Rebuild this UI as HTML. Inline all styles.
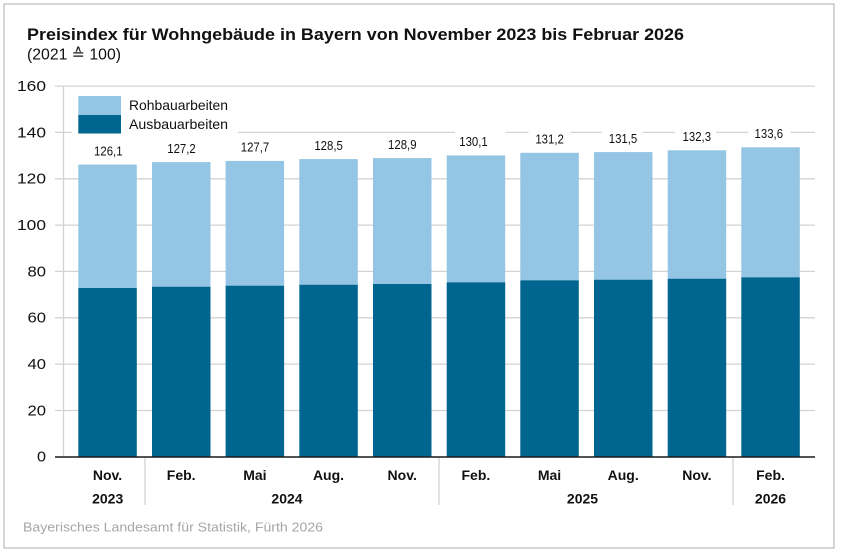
<!DOCTYPE html>
<html><head><meta charset="utf-8"><style>
html,body{margin:0;padding:0;background:#fff;}
svg{display:block;}
text{font-family:"Liberation Sans","DejaVu Sans",sans-serif;}
</style></head><body>
<svg width="841" height="555" viewBox="0 0 841 555" xmlns="http://www.w3.org/2000/svg">
<rect x="0" y="0" width="841" height="555" fill="#fff"/>
<rect x="4" y="4" width="830" height="544" fill="#fff" stroke="#c9c9c9" stroke-width="1.5"/>
<text x="27" y="40" font-size="17" font-weight="bold" fill="#111" textLength="657" lengthAdjust="spacingAndGlyphs">Preisindex für Wohngebäude in Bayern von November 2023 bis Februar 2026</text>
<text x="27" y="59.5" font-size="16" fill="#111" textLength="94" lengthAdjust="spacingAndGlyphs">(2021 ≙ 100)</text>
<g stroke="#d3d3d3" stroke-width="1.3">
<line x1="55" y1="86.1" x2="815" y2="86.1"/>
<line x1="55" y1="132.4" x2="815" y2="132.4"/>
<line x1="55" y1="178.8" x2="815" y2="178.8"/>
<line x1="55" y1="225.1" x2="815" y2="225.1"/>
<line x1="55" y1="271.4" x2="815" y2="271.4"/>
<line x1="55" y1="317.8" x2="815" y2="317.8"/>
<line x1="55" y1="364.1" x2="815" y2="364.1"/>
<line x1="55" y1="410.5" x2="815" y2="410.5"/>
<line x1="63.5" y1="86" x2="63.5" y2="457"/>
<line x1="145" y1="457" x2="145" y2="505"/>
<line x1="439" y1="457" x2="439" y2="505"/>
<line x1="733" y1="457" x2="733" y2="505"/>
</g>
<g font-size="15" fill="#111" text-anchor="end">
<text x="46" y="91" textLength="29" lengthAdjust="spacingAndGlyphs">160</text>
<text x="46" y="137.3" textLength="29" lengthAdjust="spacingAndGlyphs">140</text>
<text x="46" y="183.7" textLength="29" lengthAdjust="spacingAndGlyphs">120</text>
<text x="46" y="230" textLength="29" lengthAdjust="spacingAndGlyphs">100</text>
<text x="46" y="276.3" textLength="18.5" lengthAdjust="spacingAndGlyphs">80</text>
<text x="46" y="322.7" textLength="18.5" lengthAdjust="spacingAndGlyphs">60</text>
<text x="46" y="369" textLength="18.5" lengthAdjust="spacingAndGlyphs">40</text>
<text x="46" y="415.4" textLength="18.5" lengthAdjust="spacingAndGlyphs">20</text>
<text x="46" y="461.7" textLength="9" lengthAdjust="spacingAndGlyphs">0</text>
</g>
<!-- bars -->
<g>
<rect x="78.3" y="164.6" width="58.5" height="123.4" fill="#95c5e4"/><rect x="78.3" y="288" width="58.5" height="169" fill="#00668f"/>
<rect x="152" y="162.1" width="58.5" height="124.6" fill="#95c5e4"/><rect x="152" y="286.7" width="58.5" height="170.3" fill="#00668f"/>
<rect x="225.6" y="160.9" width="58.5" height="124.8" fill="#95c5e4"/><rect x="225.6" y="285.7" width="58.5" height="171.3" fill="#00668f"/>
<rect x="299.3" y="159.1" width="58.5" height="125.6" fill="#95c5e4"/><rect x="299.3" y="284.7" width="58.5" height="172.3" fill="#00668f"/>
<rect x="373" y="158.1" width="58.5" height="125.9" fill="#95c5e4"/><rect x="373" y="284" width="58.5" height="173" fill="#00668f"/>
<rect x="446.7" y="155.4" width="58.5" height="126.9" fill="#95c5e4"/><rect x="446.7" y="282.3" width="58.5" height="174.7" fill="#00668f"/>
<rect x="520.3" y="152.8" width="58.5" height="127.5" fill="#95c5e4"/><rect x="520.3" y="280.3" width="58.5" height="176.7" fill="#00668f"/>
<rect x="594" y="152.1" width="58.5" height="127.6" fill="#95c5e4"/><rect x="594" y="279.7" width="58.5" height="177.3" fill="#00668f"/>
<rect x="667.7" y="150.3" width="58.5" height="128.4" fill="#95c5e4"/><rect x="667.7" y="278.7" width="58.5" height="178.3" fill="#00668f"/>
<rect x="741.3" y="147.3" width="58.5" height="130" fill="#95c5e4"/><rect x="741.3" y="277.3" width="58.5" height="179.7" fill="#00668f"/>
</g>
<line x1="55" y1="457" x2="815" y2="457" stroke="#1a1a1a" stroke-width="1.6"/>
<!-- legend -->
<rect x="72" y="91" width="166" height="46" fill="#fff"/>
<rect x="78.3" y="96" width="42.7" height="19" fill="#95c5e4"/>
<rect x="78.3" y="115" width="42.7" height="18.5" fill="#00668f"/>
<text x="129" y="110" font-size="14" fill="#111" textLength="99" lengthAdjust="spacingAndGlyphs">Rohbauarbeiten</text>
<text x="129" y="129" font-size="14" fill="#111" textLength="99" lengthAdjust="spacingAndGlyphs">Ausbauarbeiten</text>
<!-- label backgrounds for gridline interruption -->
<g fill="#fff">
<rect x="455" y="131" width="51" height="4"/>
<rect x="528.5" y="128" width="42" height="8"/>
<rect x="601.7" y="128" width="41" height="8"/>
<rect x="674.8" y="128" width="41.5" height="8"/>
<rect x="748.5" y="124" width="42" height="12"/>
</g>
<!-- value labels -->
<g font-size="13" fill="#111" text-anchor="middle">
<text x="108.3" y="155.3" textLength="28.5" lengthAdjust="spacingAndGlyphs">126,1</text>
<text x="181.5" y="152.8" textLength="28.5" lengthAdjust="spacingAndGlyphs">127,2</text>
<text x="255" y="151.6" textLength="28.5" lengthAdjust="spacingAndGlyphs">127,7</text>
<text x="328.6" y="149.8" textLength="28.5" lengthAdjust="spacingAndGlyphs">128,5</text>
<text x="402.3" y="148.8" textLength="28.5" lengthAdjust="spacingAndGlyphs">128,9</text>
<text x="473.5" y="146.1" textLength="28.5" lengthAdjust="spacingAndGlyphs">130,1</text>
<text x="549.6" y="143.5" textLength="28.5" lengthAdjust="spacingAndGlyphs">131,2</text>
<text x="623" y="142.8" textLength="28.5" lengthAdjust="spacingAndGlyphs">131,5</text>
<text x="696.8" y="141" textLength="28.5" lengthAdjust="spacingAndGlyphs">132,3</text>
<text x="768.8" y="138.2" textLength="28.5" lengthAdjust="spacingAndGlyphs">133,6</text>
</g>
<!-- x labels -->
<g font-size="14" font-weight="bold" fill="#111" text-anchor="middle">
<text x="107.5" y="480">Nov.</text>
<text x="181.2" y="480">Feb.</text>
<text x="254.9" y="480">Mai</text>
<text x="328.5" y="480">Aug.</text>
<text x="402.2" y="480">Nov.</text>
<text x="475.9" y="480">Feb.</text>
<text x="549.5" y="480">Mai</text>
<text x="623.2" y="480">Aug.</text>
<text x="696.9" y="480">Nov.</text>
<text x="770.5" y="480">Feb.</text>
<text x="107.7" y="503.5">2023</text>
<text x="287" y="503.5">2024</text>
<text x="582.5" y="503.5">2025</text>
<text x="770.5" y="503.5">2026</text>
</g>
<text x="23" y="531.5" font-size="13" fill="#a6a6a6" textLength="300" lengthAdjust="spacingAndGlyphs">Bayerisches Landesamt für Statistik, Fürth 2026</text>
</svg>
</body></html>
